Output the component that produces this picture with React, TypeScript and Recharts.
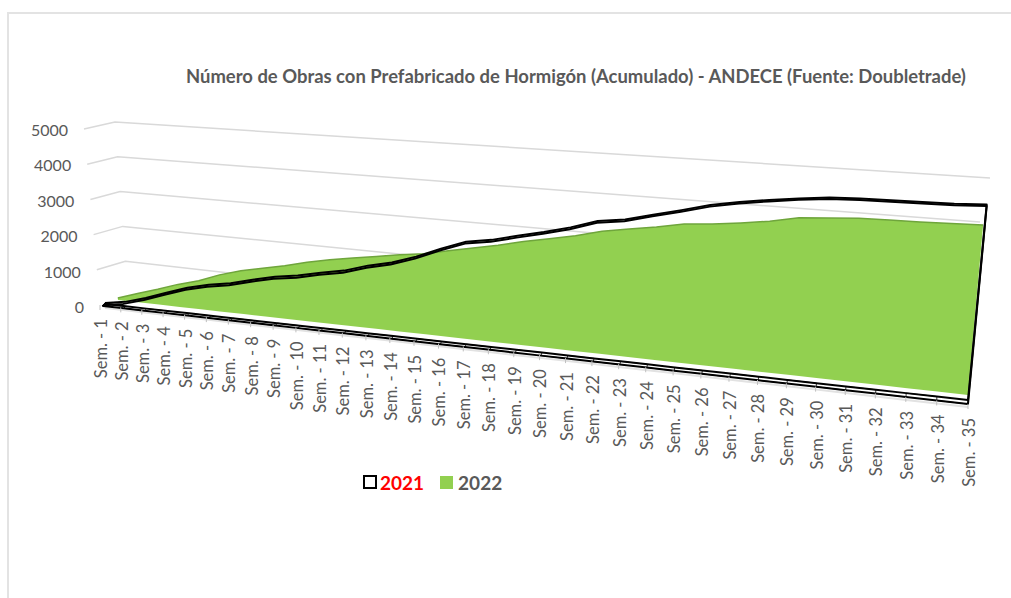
import * as React from "react"
import { ScatterChart, Scatter, XAxis, YAxis } from "recharts"

const weeks = Array.from({ length: 35 }, (_, i) => `Sem. - ${i + 1}`)

const values2021 = [
  30, 125, 300, 505, 705, 850, 950, 1105, 1245, 1330, 1465, 1575, 1760, 1895, 2100, 2355, 2580, 2675,
  2825, 2965, 3125, 3325, 3405, 3565, 3715, 3875, 3990, 4075, 4150, 4210, 4225, 4225, 4225, 4225, 4250,
]
const values2022 = [
  55, 250, 430, 630, 790, 1015, 1185, 1315, 1440, 1590, 1710, 1810, 1905, 2010, 2090, 2220, 2340, 2465,
  2610, 2730, 2855, 3015, 3120, 3215, 3335, 3380, 3455, 3540, 3665, 3710, 3745, 3755, 3755, 3765, 3780,
]
const yTicks = [0, 1000, 2000, 3000, 4000, 5000]

const WIDTH = 1011
const HEIGHT = 598
const MAX = 5000
const FONT = "Lato, sans-serif"
const TEXT = "#595959"
const GRID = "#d9d9d9"
const GREEN = "#92d050"

// the picture is a tilted 3D chart: each series sits on its own quad [x, y]
type Pt = [number, number]
type Quad = { bl: Pt; br: Pt; tl: Pt; tr: Pt }

const front: Quad = { bl: [103, 306], br: [968, 404], tl: [87, 129], tr: [990, 171] }
const rear: Quad = { bl: [105, 304], br: [968, 400], tl: [89, 128], tr: [990, 170] }
const shadow: Quad = { bl: [105, 308], br: [968, 407], tl: [89, 131], tr: [990, 173] }
const green: Quad = { bl: [118, 300], br: [968, 395], tl: [101, 125], tr: [988, 170] }
const axisPlane: Quad = { bl: [100, 305], br: [968, 404], tl: [84, 129], tr: [990, 171] }
const labelPlane: Quad = { bl: [100, 307], br: [968, 405], tl: [84, 130], tr: [990, 172] }
const wall: Quad = { bl: [128, 296], br: [940, 398], tl: [115, 122], tr: [990, 178] }

const PERSPECTIVE = 1.235
const depth = (i: number, n = weeks.length) => {
  const t = i / (n - 1)
  return t / (PERSPECTIVE - (PERSPECTIVE - 1) * t)
}

const project = (q: Quad, u: number, v: number) => {
  const h = v / MAX
  const bx = q.bl[0] + (q.br[0] - q.bl[0]) * u
  const by = q.bl[1] + (q.br[1] - q.bl[1]) * u
  const tx = q.tl[0] + (q.tr[0] - q.tl[0]) * u
  const ty = q.tl[1] + (q.tr[1] - q.tl[1]) * u
  return { x: bx + (tx - bx) * h, y: by + (ty - by) * h }
}

const topLine = (q: Quad, vals: number[]) => vals.map((v, i) => project(q, depth(i), v))
const baseLine = (q: Quad) => weeks.map((_, i) => project(q, depth(i), 0))
const outline = (q: Quad, vals: number[]) => {
  const pts = [...topLine(q, vals), ...baseLine(q).reverse()]
  return [...pts, pts[0]]
}

// rails + ties of the black band along the floor
const band = weeks.flatMap((_, i) => {
  const a = project(front, depth(i), 0)
  const b = project(rear, depth(i), 0)
  return i % 2 === 0 ? [a, b] : [b, a]
})

const gridLines = yTicks.slice(1).map((v) => [
  project(axisPlane, 0, v),
  project(wall, 0, v),
  project(wall, 1, v),
])

const xTickData = weeks.map((label, i) => ({ ...project(axisPlane, depth(i), 0), label }))
const yTickData = yTicks.map((v) => ({ ...project(labelPlane, 0, v), label: String(v) }))

const noDot = () => <g />

const XTick = ({ cx, cy, payload }: any) => (
  <g>
    <line x1={cx} y1={cy} x2={cx} y2={cy + 5} stroke="#bfbfbf" />
    <text
      transform={`translate(${cx + 7},${cy + 14}) rotate(-90)`}
      textAnchor="end"
      fontFamily={FONT}
      fontSize={16.5}
      fill={TEXT}
    >
      {payload.label}
    </text>
  </g>
)

const YTick = ({ cx, cy, payload }: any) => (
  <text x={cx - 16} y={cy + 6} textAnchor="end" fontFamily={FONT} fontSize={16} fill={TEXT}>
    {payload.label}
  </text>
)

const path = (data: { x: number; y: number }[], line: any, key: string) => (
  <Scatter
    key={key}
    data={data}
    dataKey="y"
    shape={noDot}
    line={{ strokeLinejoin: "round", ...line }}
    isAnimationActive={false}
  />
)

export default function App() {
  return (
    <div style={{ position: "absolute", left: 0, top: 0, width: WIDTH, height: HEIGHT, background: "#fff" }}>
      <div
        style={{
          position: "absolute",
          left: 7,
          top: 12,
          right: 0,
          bottom: 0,
          borderLeft: "2px solid #e3e3e3",
          borderTop: "2px solid #e3e3e3",
        }}
      />
      <div
        style={{
          position: "absolute",
          left: 186,
          top: 65,
          whiteSpace: "nowrap",
          fontFamily: FONT,
          fontWeight: 700,
          fontSize: 18.45,
          lineHeight: "22px",
          color: TEXT,
        }}
      >
        Número de Obras con Prefabricado de Hormigón (Acumulado) - ANDECE (Fuente: Doubletrade)
      </div>
      <ScatterChart
        width={WIDTH}
        height={HEIGHT}
        margin={{ top: 0, right: 0, bottom: 0, left: 0 }}
        style={{ position: "absolute", left: 0, top: 0 }}
      >
        <XAxis type="number" dataKey="x" domain={[0, WIDTH]} hide />
        <YAxis type="number" dataKey="y" domain={[0, HEIGHT]} reversed hide />
        {gridLines.map((g, i) => path(g, { stroke: GRID, strokeWidth: 1.5 }, `grid-${i}`))}
        {path(outline(green, values2022), { stroke: "none", fill: GREEN }, "area-2022")}
        {path(topLine(green, values2022), { stroke: "#6fa53c", strokeWidth: 1.5 }, "top-2022")}
        {path(baseLine(shadow), { stroke: "#e2e2e2", strokeWidth: 2 }, "shadow")}
        {path(outline(rear, values2021), { stroke: "#000", strokeWidth: 2 }, "rear-2021")}
        {path(outline(front, values2021), { stroke: "#000", strokeWidth: 2 }, "front-2021")}
        {path(band, { stroke: "#000", strokeWidth: 0.8 }, "band-2021")}
        <Scatter data={xTickData} dataKey="y" shape={XTick} isAnimationActive={false} />
        <Scatter data={yTickData} dataKey="y" shape={YTick} isAnimationActive={false} />
      </ScatterChart>
      <div
        style={{
          position: "absolute",
          left: 363,
          top: 470,
          display: "flex",
          alignItems: "center",
          height: 24,
          fontFamily: FONT,
          fontWeight: 700,
          fontSize: 19,
        }}
      >
        <span style={{ width: 10, height: 10, border: "2px solid #000", marginRight: 3 }} />
        <span style={{ color: "#ff0000", marginRight: 16 }}>2021</span>
        <span style={{ width: 13, height: 13, background: GREEN, marginRight: 5 }} />
        <span style={{ color: TEXT }}>2022</span>
      </div>
    </div>
  )
}
